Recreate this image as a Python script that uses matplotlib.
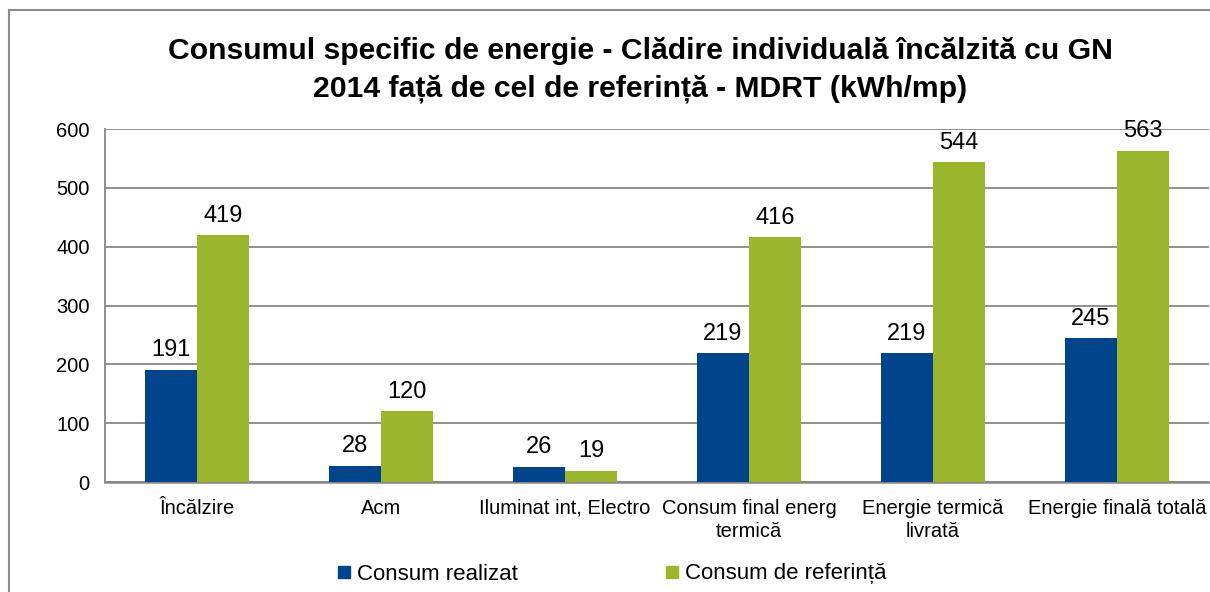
import numpy as np
import matplotlib.pyplot as plt
import matplotlib.patches as mpatches
from matplotlib.lines import Line2D

plt.rcParams['font.family'] = ['Liberation Sans', 'DejaVu Sans']

BLUE, GREEN = '#00458C', '#9BB52D'
GRID = '#878787'

categories = ['Încălzire', 'Acm', 'Iluminat int, Electro',
              'Consum final energ\ntermică', 'Energie termică\nlivrată',
              'Energie finală totală']
realizat = [191, 28, 26, 219, 219, 245]
referinta = [419, 120, 19, 416, 544, 563]
series_names = ['Consum realizat', 'Consum de referință']
yticks = [0, 100, 200, 300, 400, 500, 600]

fig = plt.figure(figsize=(12.10, 5.92), dpi=100)
ax = fig.add_axes([105 / 1210, 110 / 592, 1104 / 1210, 353 / 592])

x = np.arange(len(categories))
w = 0.283
b1 = ax.bar(x - w / 2, realizat, w, color=BLUE, zorder=3)
b2 = ax.bar(x + w / 2, referinta, w, color=GREEN, zorder=3)

for bars, vals in ((b1, realizat), (b2, referinta)):
    for rect, v in zip(bars, vals):
        ax.annotate(f'{v}', xy=(rect.get_x() + rect.get_width() / 2, v),
                    xytext=(0, 6), textcoords='offset points',
                    ha='center', va='bottom', fontsize=17, zorder=4)

ax.set_xlim(-0.5, len(categories) - 0.5)
ax.set_ylim(0, 600)
ax.set_yticks(yticks)
ax.set_xticks(x)
ax.set_xticklabels(categories, fontsize=14.5, linespacing=1.3)
ax.tick_params(axis='y', labelsize=14.5, length=0, pad=11)
ax.tick_params(axis='x', length=0, pad=12)
ax.yaxis.grid(True, color=GRID, lw=1.3, zorder=0)
ax.set_axisbelow(True)
for s in ('top', 'right'):
    ax.spines[s].set_visible(False)
ax.spines['left'].set_color(GRID)
ax.spines['left'].set_linewidth(1.3)
ax.spines['bottom'].set_color(GRID)
ax.spines['bottom'].set_linewidth(1.8)

fig.text(640 / 1210, 1 - 70 / 592,
         'Consumul specific de energie - Clădire individuală încălzită cu GN\n'
         '2014 față de cel de referință - MDRT (kWh/mp)',
         ha='center', va='center', fontsize=21.7, fontweight='bold',
         linespacing=1.4)

handles = [Line2D([], [], marker='s', ls='', color=c, markersize=8.5)
           for c in (BLUE, GREEN)]
fig.legend(handles, series_names, loc='center',
           bbox_to_anchor=(612 / 1210, 18 / 592), ncol=2, frameon=False,
           fontsize=16, handlelength=0.6, handletextpad=0.3,
           columnspacing=6.6)

# outer chart frame
fig.add_artist(mpatches.Rectangle((9 / 1210, -0.1), 1.2, 1.1 - 10 / 592,
                                  transform=fig.transFigure, fill=False,
                                  edgecolor='#8c8c8c', lw=1.5))

fig.savefig('out.png', dpi=100)
